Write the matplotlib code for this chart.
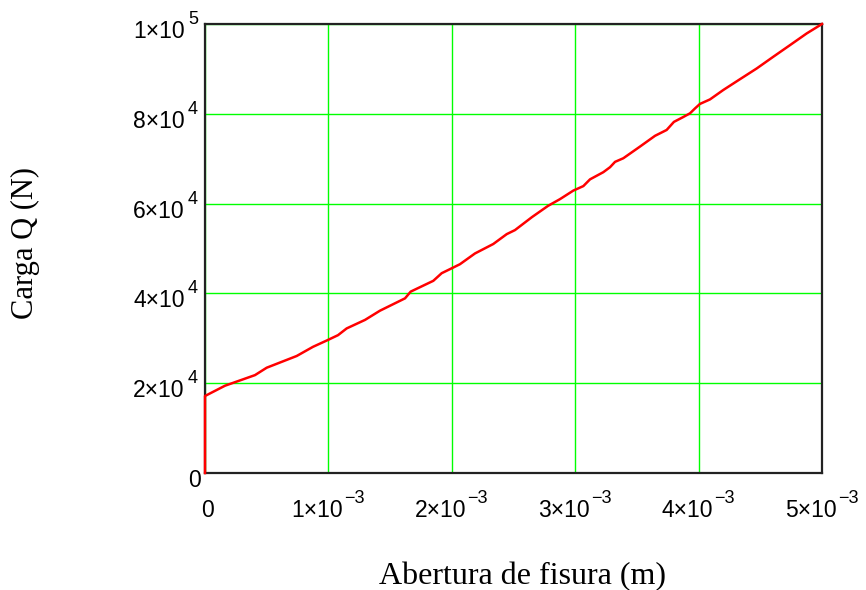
import matplotlib
matplotlib.use("Agg")
import matplotlib.pyplot as plt
from matplotlib.transforms import ScaledTranslation

# Load–crack opening curve
abertura = [0.0, 0.0, 0.162e-3, 0.405e-3, 0.500e-3, 0.743e-3, 0.875e-3, 0.986e-3,
            1.078e-3, 1.148e-3, 1.297e-3, 1.418e-3, 1.621e-3, 1.667e-3, 1.850e-3,
            1.918e-3, 1.985e-3, 2.066e-3, 2.188e-3, 2.336e-3, 2.445e-3, 2.512e-3,
            2.650e-3, 2.780e-3, 2.877e-3, 2.985e-3, 3.066e-3, 3.120e-3, 3.228e-3,
            3.282e-3, 3.323e-3, 3.390e-3, 3.525e-3, 3.647e-3, 3.741e-3, 3.800e-3,
            3.870e-3, 3.930e-3, 3.971e-3, 4.011e-3, 4.092e-3, 4.200e-3, 4.335e-3,
            4.471e-3, 4.605e-3, 4.741e-3, 4.876e-3, 5.000e-3]
carga = [0.0, 17.15e3, 19.44e3, 21.8e3, 23.45e3, 26.06e3, 28.1e3, 29.5e3,
         30.7e3, 32.2e3, 34.1e3, 36.15e3, 38.9e3, 40.4e3, 42.8e3,
         44.5e3, 45.4e3, 46.5e3, 48.9e3, 51.0e3, 53.2e3, 54.1e3,
         57.0e3, 59.5e3, 61.0e3, 62.9e3, 63.9e3, 65.4e3, 67.0e3,
         68.1e3, 69.3e3, 70.1e3, 72.7e3, 75.1e3, 76.4e3, 78.2e3,
         79.2e3, 80.1e3, 81.2e3, 82.2e3, 83.2e3, 85.3e3, 87.7e3,
         90.1e3, 92.7e3, 95.3e3, 97.9e3, 100e3]

xticks = [0, 1e-3, 2e-3, 3e-3, 4e-3, 5e-3]
xtick_base = ["0", "1×10", "2×10", "3×10", "4×10", "5×10"]
xtick_exp = ["", "−3", "−3", "−3", "−3", "−3"]
yticks = [0, 2e4, 4e4, 6e4, 8e4, 1e5]
ytick_base = ["0", "2×10", "4×10", "6×10", "8×10", "1×10"]
ytick_exp = ["", "4", "4", "4", "4", "5"]

plt.rcParams["font.family"] = ["Liberation Sans", "DejaVu Sans"]

fig = plt.figure(figsize=(8.66, 5.90), dpi=100)
ax = fig.add_axes([205 / 866, 1 - 473 / 590, 617 / 866, 449 / 590])

ax.plot(abertura, carga, color="#ff0000", lw=1.8, zorder=5, clip_on=False)

ax.set_xlim(0, 5e-3)
ax.set_ylim(0, 1e5)
ax.set_xticks(xticks)
ax.set_yticks(yticks)
ax.set_xticklabels(xtick_base, fontsize=16.5)
ax.set_yticklabels(ytick_base, fontsize=16.5)
ax.tick_params(axis="both", length=0)
ax.tick_params(axis="x", pad=32)
ax.tick_params(axis="y", pad=3)

px = 1 / 100  # one pixel in inches

def shift(dx, dy):
    return ScaledTranslation(dx * px, dy * px, fig.dpi_scale_trans)

# x labels: baseline-aligned, base text shifted so base + exponent sits centred
for lab, e in zip(ax.get_xticklabels(), xtick_exp):
    lab.set_va("baseline")
    lab.set_transform(lab.get_transform() + shift(-11 if e else 3, 0))
    if e:
        ax.annotate(e, xy=(1, 1), xycoords=lab, xytext=(1, -4),
                    textcoords="offset pixels", ha="left", va="baseline",
                    fontsize=13)

# y labels: exponent ends at the common right edge
for lab, e in zip(ax.get_yticklabels(), ytick_exp):
    lab.set_va("baseline")
    lab.set_transform(lab.get_transform() + shift(-16 if e else 0, -14))
    if e:
        ax.annotate(e, xy=(1, 1), xycoords=lab, xytext=(3, -4),
                    textcoords="offset pixels", ha="left", va="baseline",
                    fontsize=13)

ax.grid(True, color="#00ff00", lw=1.0)
ax.set_axisbelow(True)
for sp in ax.spines.values():
    sp.set_color("#222222")
    sp.set_linewidth(1.6)
    sp.set_zorder(4)

ax.set_xlabel("Abertura de fisura (m)", family="Liberation Serif", fontsize=23)
ax.xaxis.set_label_coords(0.5146, -0.199)
ax.set_ylabel("Carga Q (N)", family="Liberation Serif", fontsize=22)
ax.yaxis.set_label_coords(-0.2675, 0.512)

fig.savefig("out.png", dpi=100, facecolor="white")
